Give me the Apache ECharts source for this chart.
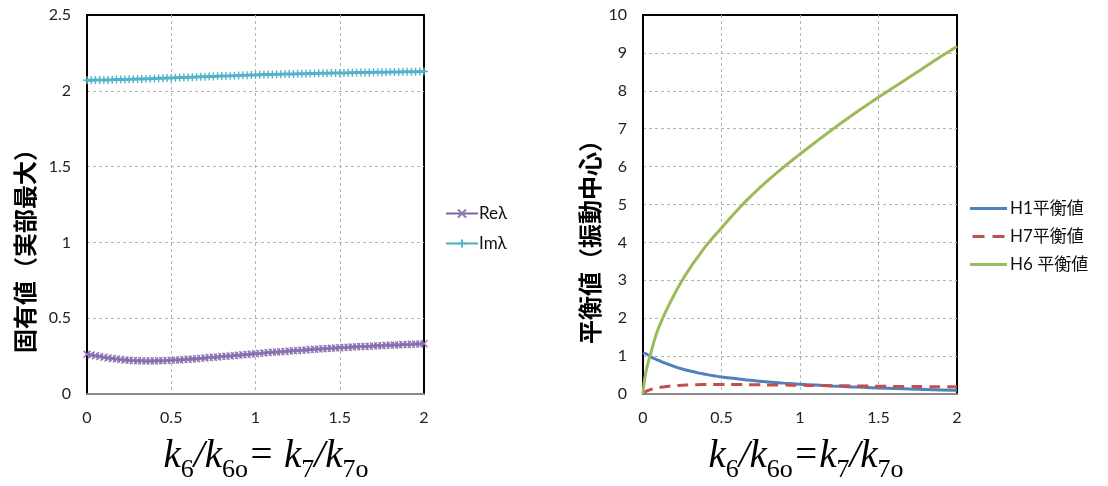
<!DOCTYPE html>
<html>
<head>
<meta charset="utf-8">
<script src="https://cdn.jsdelivr.net/npm/echarts@6/dist/echarts.min.js"></script>
<style>
html,body{margin:0;padding:0;background:#fff;}
#c{width:1108px;height:486px;}
</style>
</head>
<body>
<div id="c"></div>
<script>
// ---- Left chart data (sampled every 0.025 on x from 0 to 2) ----
const leftStep = 0.025;
const reLambda = [0.262,0.257,0.252,0.247,0.242,0.238,0.234,0.231,0.228,0.225,
  0.223,0.221,0.220,0.219,0.218,0.218,0.218,0.219,0.220,0.221,
  0.222,0.224,0.225,0.227,0.229,0.231,0.233,0.235,0.237,0.240,
  0.242,0.244,0.247,0.249,0.251,0.254,0.256,0.259,0.261,0.264,
  0.266,0.268,0.271,0.273,0.275,0.277,0.279,0.281,0.283,0.285,
  0.287,0.289,0.291,0.293,0.295,0.297,0.299,0.300,0.302,0.304,
  0.305,0.307,0.308,0.310,0.311,0.313,0.314,0.315,0.317,0.318,
  0.319,0.321,0.322,0.323,0.324,0.326,0.327,0.328,0.329,0.330,0.332];
const imLambda = [2.070,2.070,2.071,2.071,2.072,2.072,2.073,2.074,2.074,2.075,
  2.076,2.077,2.078,2.078,2.079,2.080,2.081,2.082,2.083,2.084,
  2.085,2.086,2.087,2.088,2.089,2.090,2.091,2.092,2.093,2.094,
  2.095,2.096,2.097,2.098,2.099,2.100,2.101,2.102,2.103,2.104,
  2.105,2.106,2.107,2.107,2.108,2.109,2.109,2.110,2.111,2.111,
  2.112,2.113,2.113,2.114,2.114,2.115,2.116,2.116,2.117,2.117,
  2.118,2.118,2.119,2.119,2.120,2.120,2.121,2.121,2.122,2.122,
  2.123,2.123,2.124,2.124,2.124,2.125,2.125,2.126,2.126,2.127,2.127];

// ---- Right chart data ----
const xRight = [0,0.01,0.025,0.05,0.075,0.1,0.15,0.2,0.25,0.3,0.35,0.4,0.45,0.5,0.6,0.7,0.8,0.9,1.0,1.1,1.2,1.3,1.4,1.5,1.6,1.7,1.8,1.9,2.0];
const h1 = [1.09,1.07,1.05,0.98,0.93,0.885,0.80,0.725,0.66,0.605,0.558,0.518,0.482,0.45,0.40,0.355,0.318,0.287,0.26,0.235,0.212,0.192,0.175,0.158,0.144,0.131,0.119,0.107,0.096];
const h7 = [0,0.04,0.08,0.12,0.15,0.17,0.20,0.22,0.23,0.24,0.245,0.25,0.25,0.25,0.25,0.245,0.24,0.235,0.23,0.225,0.22,0.215,0.21,0.205,0.20,0.20,0.195,0.19,0.19];
const h6 = [0,0.38,0.70,1.08,1.45,1.75,2.22,2.63,3.00,3.33,3.62,3.90,4.15,4.38,4.85,5.27,5.65,6.00,6.33,6.65,6.96,7.26,7.55,7.83,8.10,8.37,8.64,8.91,9.17];

const leftNames = ['Reλ','Imλ'];
const rightNames = ['H1平衡値','H7平衡値','H6 平衡値'];
const leftYTitle = '固有値（実部最大）';
const rightYTitle = '平衡値（振動中心）';

const pairs = (xs, ys) => ys.map((v, i) => [xs[i], v]);
const xsLeft = reLambda.map((_, i) => +(i * leftStep).toFixed(3));

const numFont = 'Lato, "Liberation Sans", sans-serif';
const cjkFont = 'Lato, "Noto Sans CJK JP", sans-serif';

const splitCfg = {show: true, showMinLine: false, showMaxLine: false, lineStyle: {color: '#b4b4b4', type: [3, 3], width: 1}};

function xAxisCfg(gi) {
  return {
    type: 'value', gridIndex: gi, min: 0, max: 2, interval: 0.5,
    axisLine: {show: true, onZero: false, lineStyle: {color: '#8a8a8a', width: 2}},
    axisTick: {show: false},
    axisLabel: {color: '#222', fontSize: 16, fontFamily: numFont, margin: 16},
    splitLine: splitCfg
  };
}
function yAxisCfg(gi, max, interval) {
  return {
    type: 'value', gridIndex: gi, min: 0, max: max, interval: interval,
    axisLine: {show: true, lineStyle: {color: '#000', width: 2}},
    axisTick: {show: false},
    axisLabel: {color: '#222', fontSize: 16, fontFamily: numFont, margin: 16},
    splitLine: splitCfg
  };
}

const serif = '"Liberation Serif", "DejaVu Serif", serif';
const subRich = {
  k: {fontFamily: serif, fontStyle: 'italic', fontSize: 39, color: '#000'},
  s: {fontFamily: serif, fontSize: 26, color: '#000', padding: [26, 0, 0, 0]}
};

const solidIcon = 'path://M0,0H38V3H0Z';
const dashIcon = 'path://M0,0H12V3H0Z M20,0H32V3H20Z';

const chart = echarts.init(document.getElementById('c'), null, {renderer: 'canvas'});
chart.setOption({
  animation: false,
  backgroundColor: '#fff',
  grid: [
    {left: 87, right: 684, top: 15, bottom: 92, show: true, borderColor: '#000', borderWidth: 2, backgroundColor: 'transparent'},
    {left: 643, right: 151, top: 15, bottom: 92, show: true, borderColor: '#000', borderWidth: 2, backgroundColor: 'transparent'}
  ],
  xAxis: [xAxisCfg(0), xAxisCfg(1)],
  yAxis: [yAxisCfg(0, 2.5, 0.5), yAxisCfg(1, 10, 1)],
  legend: [
    {
      data: leftNames, orient: 'vertical', left: 440, top: 200, itemWidth: 32, itemHeight: 10, itemGap: 13,
      textStyle: {fontSize: 17, color: '#111', fontFamily: numFont, padding: [0, 0, 0, -4]}
    },
    {
      data: [
        {name: rightNames[0], icon: solidIcon},
        {name: rightNames[1], icon: dashIcon},
        {name: rightNames[2], icon: solidIcon}
      ],
      orient: 'vertical', left: 965, top: 195, itemWidth: 37, itemHeight: 3, itemGap: 11,
      textStyle: {fontSize: 17, color: '#111', fontFamily: cjkFont, padding: [0, 0, 0, -2]}
    }
  ],
  series: [
    {
      name: leftNames[0], type: 'line', xAxisIndex: 0, yAxisIndex: 0, data: pairs(xsLeft, reLambda),
      symbol: 'path://M0,0L10,10M10,0L0,10', symbolSize: 7,
      lineStyle: {color: '#8064A2', width: 3},
      itemStyle: {color: '#8064A2', borderColor: '#8f77b5', borderWidth: 1.4}
    },
    {
      name: leftNames[1], type: 'line', xAxisIndex: 0, yAxisIndex: 0, data: pairs(xsLeft, imLambda),
      symbol: 'path://M5,0L5,10M0,5L10,5', symbolSize: 8,
      lineStyle: {color: '#4BACC6', width: 3},
      itemStyle: {color: '#4BACC6', borderColor: '#55b3cb', borderWidth: 1.4}
    },
    {
      name: rightNames[0], type: 'line', xAxisIndex: 1, yAxisIndex: 1, data: pairs(xRight, h1),
      symbol: 'none', smooth: true, lineStyle: {color: '#4F81BD', width: 3}, itemStyle: {color: '#4F81BD'}
    },
    {
      name: rightNames[1], type: 'line', xAxisIndex: 1, yAxisIndex: 1, data: pairs(xRight, h7),
      symbol: 'none', smooth: true, lineStyle: {color: '#C0504D', width: 3, type: [11, 7]}, itemStyle: {color: '#C0504D'}
    },
    {
      name: rightNames[2], type: 'line', xAxisIndex: 1, yAxisIndex: 1, data: pairs(xRight, h6),
      symbol: 'none', smooth: true, lineStyle: {color: '#9BBB59', width: 3}, itemStyle: {color: '#9BBB59'}
    }
  ],
  graphic: [
    {
      type: 'text', x: 25, y: 245, rotation: Math.PI / 2,
      style: {text: leftYTitle, fontSize: 24, fontWeight: 'bold', fontFamily: '"Noto Sans CJK JP", sans-serif', fill: '#000', align: 'center', verticalAlign: 'middle'}
    },
    {
      type: 'text', x: 590, y: 236, rotation: Math.PI / 2,
      style: {text: rightYTitle, fontSize: 24, fontWeight: 'bold', fontFamily: '"Noto Sans CJK JP", sans-serif', fill: '#000', align: 'center', verticalAlign: 'middle'}
    },
    {
      type: 'text', x: 266, y: 457,
      style: {text: '{k|k}{s|6}{k|/k}{s|6o}{k|= k}{s|7}{k|/k}{s|7o}', rich: subRich, align: 'center', verticalAlign: 'middle'}
    },
    {
      type: 'text', x: 806, y: 457,
      style: {text: '{k|k}{s|6}{k|/k}{s|6o}{k|=k}{s|7}{k|/k}{s|7o}', rich: subRich, align: 'center', verticalAlign: 'middle'}
    }
  ]
});
</script>
</body>
</html>
